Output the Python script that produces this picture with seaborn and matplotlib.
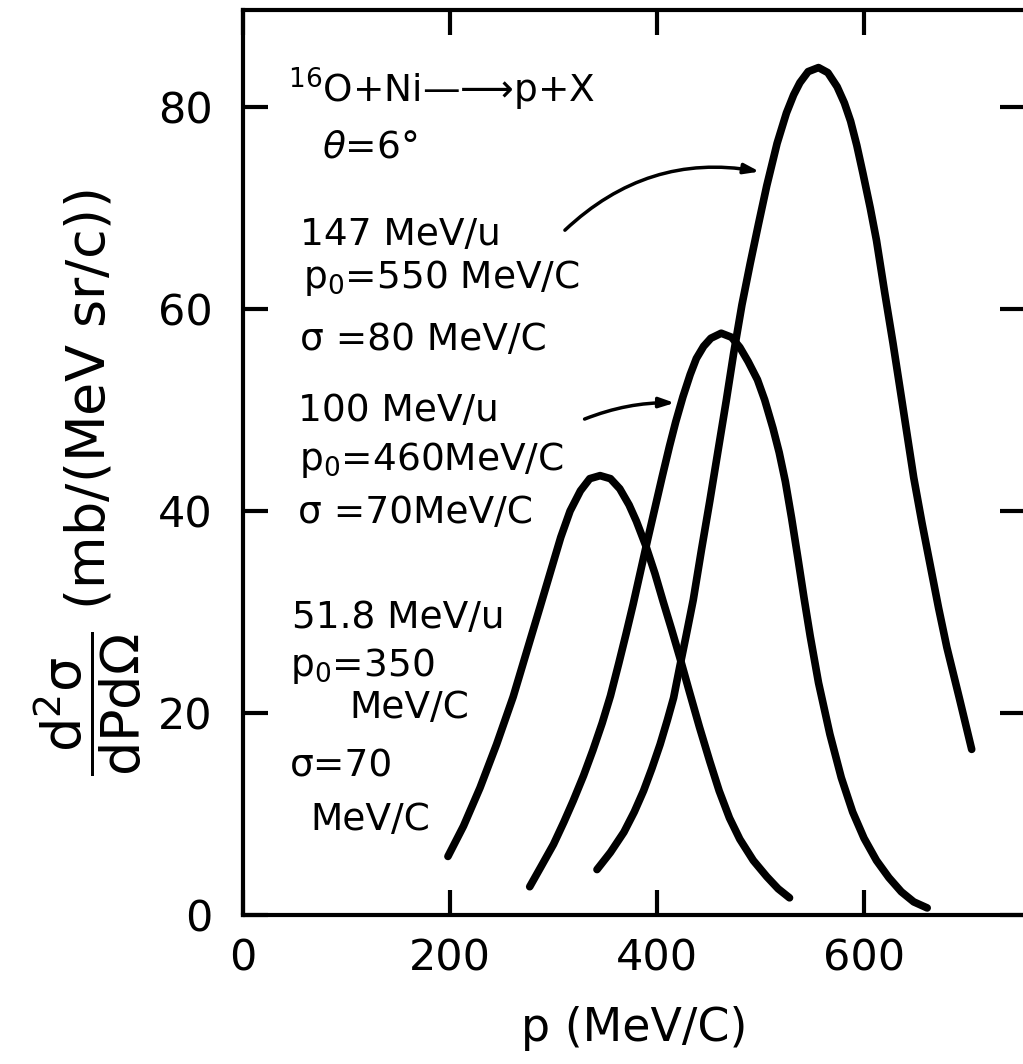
import pandas as pd
import matplotlib.pyplot as plt
import seaborn as sns

# proton spectra
# p in MeV/c, cross section in mb/(MeV sr/c)
p_51 = [198, 213, 229, 245, 261, 275, 287, 298, 307, 316, 326, 335, 345, 355,
        364, 373, 380, 389, 398, 406, 414, 422, 431, 441, 451, 460, 470, 480,
        493, 506, 517, 528]
xs_51 = [5.8, 8.8, 12.6, 16.9, 21.6, 26.4, 30.5, 34.3, 37.4, 40.0, 42.0, 43.2,
         43.5, 43.2, 42.2, 40.6, 39.0, 36.6, 33.8, 31.0, 28.3, 25.5, 22.2, 18.6,
         15.2, 12.3, 9.6, 7.5, 5.4, 3.8, 2.6, 1.7]

p_100 = [277, 288, 300, 310, 319, 329, 338, 347, 355, 363, 370, 377, 384, 391,
         398, 405, 412, 418, 425, 432, 438, 445, 452, 462, 472, 480, 488, 497,
         504, 512, 518, 524, 530, 536, 542, 548, 556, 567, 578, 589, 600, 612,
         624, 636, 648, 661]
xs_100 = [2.8, 4.8, 7.0, 9.2, 11.3, 13.8, 16.3, 19.0, 21.7, 24.9, 27.8, 30.8,
          34.0, 37.2, 40.3, 43.4, 46.4, 48.8, 51.3, 53.5, 55.1, 56.3, 57.1, 57.6,
          57.2, 56.2, 54.8, 53.0, 51.0, 48.2, 45.8, 42.9, 39.3, 35.4, 31.4, 27.6,
          23.0, 17.9, 13.6, 10.2, 7.6, 5.4, 3.7, 2.3, 1.3, 0.7]

p_147 = [342, 355, 368, 378, 387, 395, 403, 410, 416, 422, 428, 435, 443, 451,
         459, 467, 474, 482, 490, 498, 506, 516, 525, 532, 538, 546, 556, 565,
         574, 581, 587, 593, 599, 606, 612, 620, 628, 636, 648, 656, 664, 672,
         680, 692, 704]
xs_147 = [4.5, 6.2, 8.2, 10.2, 12.3, 14.5, 16.9, 19.3, 21.5, 24.6, 27.6, 31.2,
          36.2, 41.0, 46.0, 51.0, 55.6, 60.4, 64.5, 68.4, 72.2, 76.4, 79.4, 81.2,
          82.4, 83.5, 83.9, 83.4, 82.0, 80.4, 78.6, 76.2, 73.4, 70.0, 66.8, 61.6,
          56.6, 51.3, 43.3, 38.8, 34.6, 30.4, 26.5, 21.5, 16.4]

beams = ["51.8 MeV/u", "100 MeV/u", "147 MeV/u"]
x_ticks = [0, 200, 400, 600]
y_ticks = [0, 20, 40, 60, 80]

# long table for seaborn
frames = []
for beam, p, xs in zip(beams, [p_51, p_100, p_147], [xs_51, xs_100, xs_147]):
    frames.append(pd.DataFrame({"p": p, "xs": xs, "beam": beam}))
df = pd.concat(frames, ignore_index=True)

sns.set_style("ticks")
plt.rcParams["font.family"] = ["DejaVu Sans"]
plt.rcParams["mathtext.fontset"] = "dejavusans"
plt.rcParams["mathtext.default"] = "regular"
for key in ["text.color", "axes.labelcolor", "xtick.color", "ytick.color",
            "axes.edgecolor"]:
    plt.rcParams[key] = "black"

fig = plt.figure(figsize=(10.23, 10.64), dpi=100)
ax = fig.add_axes([243 / 1023, 1 - 915 / 1064, 782 / 1023, 905 / 1064])

sns.lineplot(data=df, x="p", y="xs", hue="beam", units="beam", estimator=None,
             palette=["black"] * 3, legend=False, linewidth=5.5,
             solid_capstyle="round", solid_joinstyle="round", ax=ax)

ax.set_xlim(0, 755.5)
ax.set_ylim(0, 89.6)
ax.set_xticks(x_ticks)
ax.set_yticks(y_ticks)
ax.tick_params(direction="in", length=18, width=3, top=True, right=True,
               labelsize=31)
ax.tick_params(axis="x", pad=16)
ax.tick_params(axis="y", pad=22)
for s in ax.spines.values():
    s.set_linewidth(3)

ax.set_xlabel("p (MeV/C)", fontsize=33, labelpad=19)
ax.set_ylabel(r"$\dfrac{d^2\sigma}{dPd\Omega}$ (mb/(MeV sr/c))", fontsize=39)
ax.yaxis.set_label_coords(-0.126, 0.478)

# annotations
fs = 27
ax.text(43.5, 80.4, r"$^{16}$O+Ni—⟶p+X", fontsize=fs, va="baseline")
ax.text(76, 75.0, r"$\mathit{\theta}$=6°", fontsize=fs, va="baseline")
ax.text(55, 66.3, "147 MeV/u", fontsize=fs, va="baseline")
ax.text(58, 62.1, r"p$_0$=550 MeV/C", fontsize=fs, va="baseline")
ax.text(55, 55.9, "σ =80 MeV/C", fontsize=fs, va="baseline")
ax.text(53, 48.9, "100 MeV/u", fontsize=fs, va="baseline")
ax.text(54, 44.1, r"p$_0$=460MeV/C", fontsize=fs, va="baseline")
ax.text(53, 38.8, "σ =70MeV/C", fontsize=fs, va="baseline")
ax.text(47, 28.4, "51.8 MeV/u", fontsize=fs, va="baseline")
ax.text(45, 23.7, r"p$_0$=350", fontsize=fs, va="baseline")
ax.text(103, 19.5, "MeV/C", fontsize=fs, va="baseline")
ax.text(45, 13.7, "σ=70", fontsize=fs, va="baseline")
ax.text(65, 8.4, "MeV/C", fontsize=fs, va="baseline")

arrow = dict(arrowstyle="-|>,head_length=0.9,head_width=0.3", lw=2.5,
             color="black", shrinkA=0, shrinkB=0)
ax.annotate("", xy=(499, 73.6), xytext=(311, 67.8),
            arrowprops=dict(arrow, connectionstyle="arc3,rad=-0.25"))
ax.annotate("", xy=(417, 50.7), xytext=(330, 49.1),
            arrowprops=dict(arrow, connectionstyle="arc3,rad=-0.1"))

fig.savefig("out.png", dpi=100)
